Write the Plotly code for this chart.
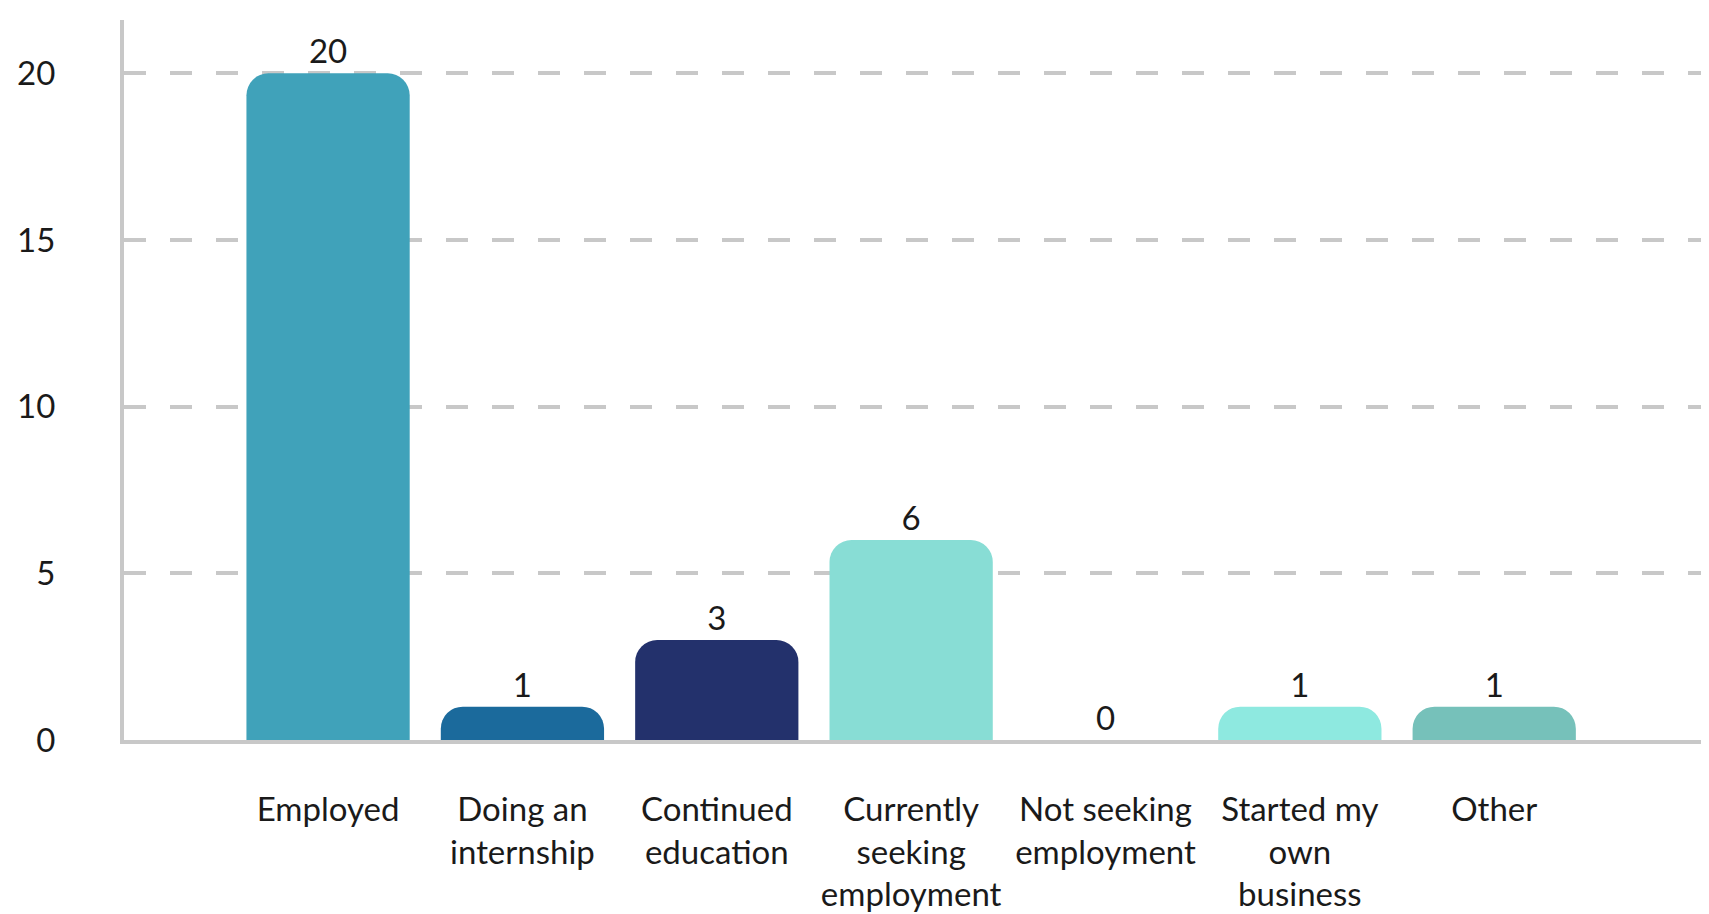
import plotly.graph_objects as go

categories = ["Employed", "Doing an<br>internship", "Continued<br>education",
              "Currently<br>seeking<br>employment", "Not seeking<br>employment",
              "Started my<br>own<br>business", "Other"]
values = [20, 1, 3, 6, 0, 1, 1]
colors = ["#40A2BA", "#1B6A9C", "#23316C", "#88DDD5", "#7FD3CC", "#8EE9E0", "#76C1BA"]
y_ticks = [0, 5, 10, 15, 20]

FONT = "Lato"
FS = 33

fig = go.Figure(go.Bar(
    x=categories, y=values,
    marker=dict(color=colors, cornerradius=22, line=dict(width=0)),
    text=[str(v) for v in values], textposition="outside",
    textfont=dict(family=FONT, size=FS, color="#1a1a1a"),
    cliponaxis=False, width=0.84,
))

fig.update_layout(
    width=1709, height=914,
    margin=dict(l=110, r=9, t=12, b=181),
    paper_bgcolor="white", plot_bgcolor="white",
    showlegend=False,
    font=dict(family=FONT, size=FS, color="#1a1a1a"),
    xaxis=dict(range=[-1.05, 7.10], showgrid=False, showline=True,
               linecolor="#c8c8c8", linewidth=4, ticks="",
               tickfont=dict(family=FONT, size=FS, color="#1a1a1a"),
               ticklabelstandoff=37, zeroline=False),
    yaxis=dict(range=[0, 21.6], tickvals=y_ticks, showgrid=True,
               gridcolor="#c8c8c8", gridwidth=4, griddash="22px,24px",
               showline=True, linecolor="#c8c8c8", linewidth=4,
               ticks="", ticklabelstandoff=58, zeroline=False,
               tickfont=dict(family=FONT, size=FS, color="#1a1a1a")),
)

fig.write_html("out.html")
